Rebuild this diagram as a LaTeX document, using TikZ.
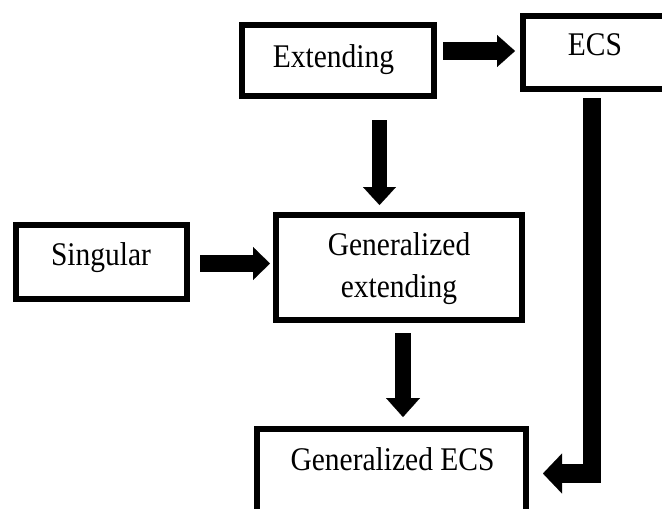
\documentclass[tikz,border=0pt]{standalone}
\usepackage{fontspec}
\usepackage{graphicx}
\setmainfont{Liberation Serif}
\usetikzlibrary{arrows.meta}
\newcommand{\tallt}[1]{\scalebox{1}[1.12]{#1}}
\tikzset{
  box/.style={draw=black, line width=6pt, rectangle, inner sep=0pt, fill=white},
  lbl/.style={anchor=base, inner sep=0pt, font=\fontsize{29.5}{34}\selectfont},
  blk/.style={draw=black, line join=miter, line cap=butt},
}
\begin{document}
\begin{tikzpicture}[x=1pt,y=-1pt]
\useasboundingbox (0,0) rectangle (662,509);
\clip (0,0) rectangle (662,509);
\fill[white] (0,0) rectangle (662,509);
% boxes
\node[box, minimum width=192pt, minimum height=71pt] (ext) at (338,60.5) {};
\node[box, minimum width=147pt, minimum height=73pt] (ecs) at (596.5,52.5) {};
\node[box, minimum width=171pt, minimum height=74pt] (sing) at (101.5,262) {};
\node[box, minimum width=246pt, minimum height=105pt] (genext) at (399,267.5) {};
\node[box, minimum width=269pt, minimum height=101pt] (genecs) at (391.5,479.5) {};
% labels
\node[lbl] (t-ext) at (333.5,67) {\tallt{Extending}};
\node[lbl] (t-ecs) at (595,55.5) {\tallt{ECS}};
\node[lbl] (t-sing) at (101,265) {\tallt{Singular}};
\node[lbl] (t-genext1) at (399,255) {\tallt{Generalized}};
\node[lbl] (t-genext2) at (399,297) {\tallt{extending}};
\node[lbl] (t-genecs) at (392.5,470) {\tallt{Generalized ECS}};
% arrows
\draw[blk, line width=18pt, shorten <=6pt, shorten >=5pt,
  -{Triangle[width=32pt,length=18pt,line width=0.1pt]}]
  (ext.east |- 0,51) -- (ecs.west |- 0,51);
\draw[blk, line width=15pt, shorten <=21pt, shorten >=7pt,
  -{Triangle[width=33pt,length=18pt,line width=0.1pt]}]
  (ext.south -| 379.5,0) -- (genext.north -| 379.5,0);
\draw[blk, line width=17pt, shorten <=10pt, shorten >=3pt,
  -{Triangle[width=33pt,length=17pt,line width=0.1pt]}]
  (sing.east |- 0,263.5) -- (genext.west |- 0,263.5);
\draw[blk, line width=16pt, shorten <=10pt, shorten >=9pt,
  -{Triangle[width=34pt,length=19pt,line width=0.1pt]}]
  (genext.south -| 403,0) -- (genecs.north -| 403,0);
\draw[blk, line width=18.5pt, shorten <=6pt, shorten >=14pt,
  -{Triangle[width=40pt,length=19pt,line width=0.1pt]}]
  (ecs.south -| 592,0) |- (genecs.east |- 0,473.5);
\end{tikzpicture}
\end{document}
